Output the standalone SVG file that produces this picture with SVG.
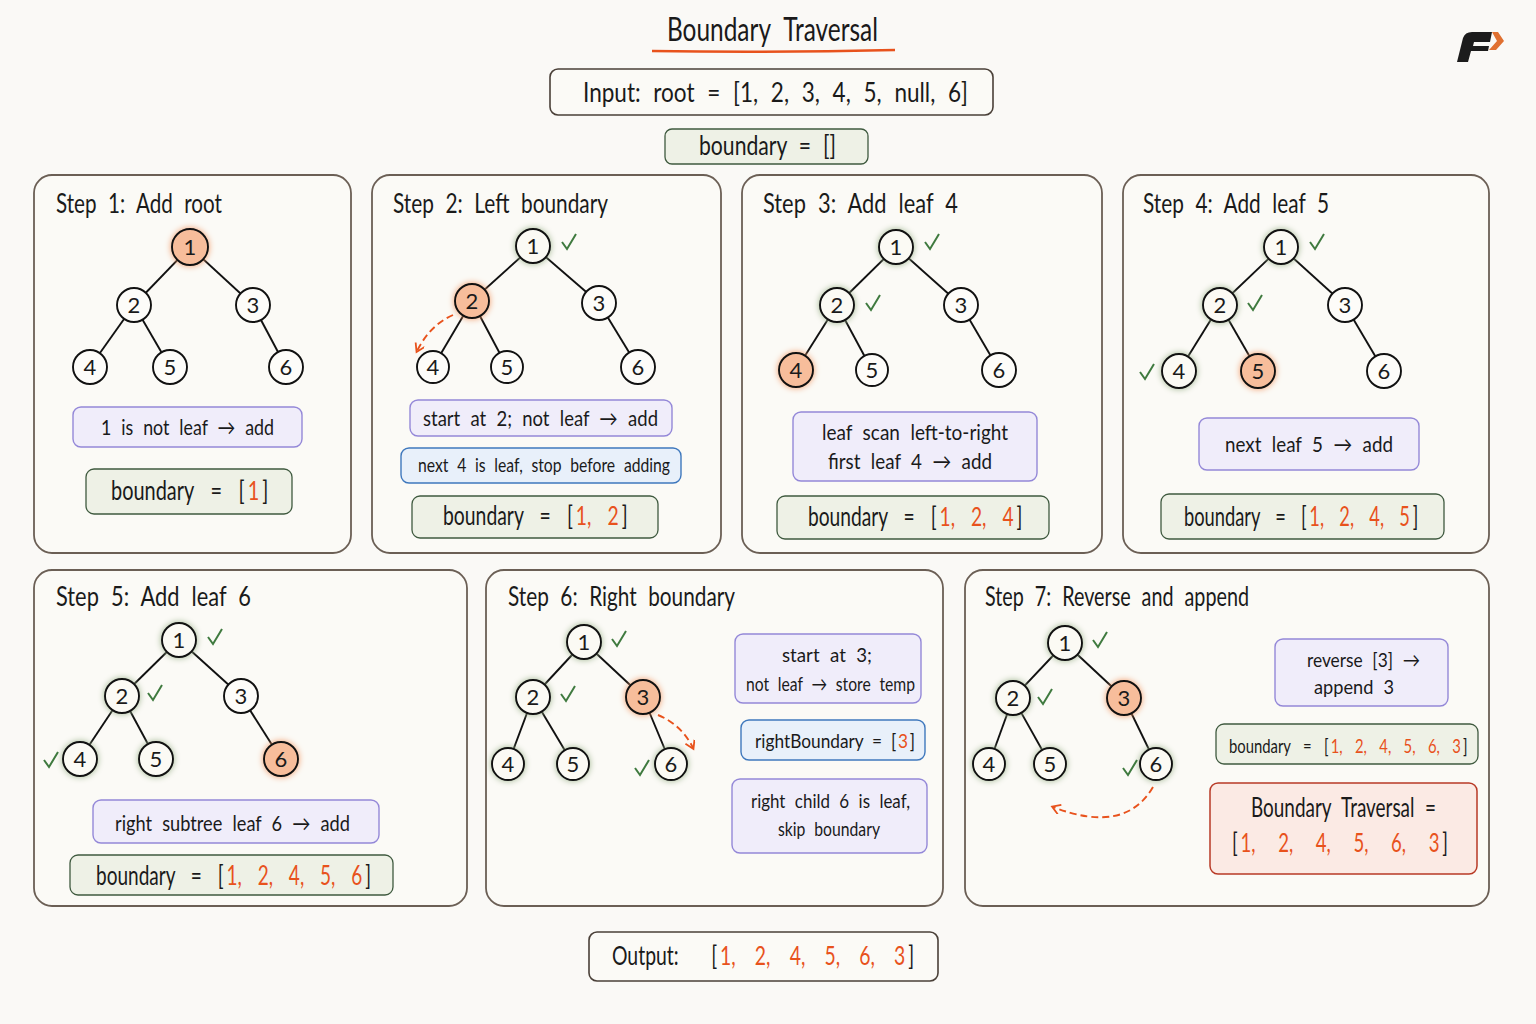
<svg xmlns="http://www.w3.org/2000/svg" xmlns:xlink="http://www.w3.org/1999/xlink" width="1536" height="1024" viewBox="0 0 1536 1024">
<style>
text{font-family:"Lato","Noto Sans",sans-serif;fill:#1a1a1a;word-spacing:.3em}
.o{fill:#e8521c}
.ti{font-size:32px}.h1{font-size:27px}.b{font-size:26px;word-spacing:15px}.m{font-size:21px}.s{font-size:20px}.t{font-size:20px;word-spacing:11.5px}
.p{fill:#fbfaf6;stroke:#6b5f55;stroke-width:1.8}
.pu{fill:#f0edfa;stroke:#9488d8;stroke-width:1.4}
.gr{fill:#eef1e6;stroke:#3f5a3f;stroke-width:1.3}
.bl{fill:#e8f0fa;stroke:#3f78bd;stroke-width:1.4}
.re{fill:#fbeae4;stroke:#b83a26;stroke-width:1.5}
.w{fill:#fbfaf6;stroke:#4a4038;stroke-width:1.6}
.n circle{fill:#fdfcf9;stroke:#111;stroke-width:1.9}
.n text{font-size:22px;text-anchor:middle}
.v circle{fill:#fbfaf4;filter:drop-shadow(0 0 3px #9fb58f)}
.h circle{fill:#f7bd9b;filter:drop-shadow(0 0 3px #f39a68)}
.e line{stroke:#111;stroke-width:1.9}
.ck{fill:none;stroke:#3f7a3f;stroke-width:2}
.ar{fill:none;stroke:#e8521c;stroke-width:1.9;stroke-dasharray:7 4}
</style>
<defs>
<path id="c" class="ck" d="M-7,1 L-2,8 L7,-7"/>
<marker id="a" markerUnits="userSpaceOnUse" markerWidth="12" markerHeight="12" refX="8" refY="5" orient="auto"><path d="M1,0 L9,5 L1,10" fill="none" stroke="#e8521c" stroke-width="1.8"/></marker>
</defs>
<rect width="1536" height="1024" fill="#faf9f6"/>
<g id="title"><text class="ti" x="667" y="41" textLength="211" lengthAdjust="spacingAndGlyphs">Boundary Traversal</text><path d="M652,51 Q770,53 895,50" fill="none" stroke="#e8521c" stroke-width="2.5"/></g>
<g id="logo"><path fill="#1c1c1c" d="M1457,62 L1463,38 Q1465,32 1472,32 L1492,32 L1490,42 L1474,42 L1473,46 L1489,46 L1488,51 L1471,51 L1468,62 Z"/><path fill="#e07030" d="M1492,32 L1498,32 L1504,41 L1496,50 L1489,50 L1497,41 Z"/></g>
<g id="input"><rect class="w" x="550" y="69" width="443" height="46" rx="8"/><text class="b" x="583" y="102" textLength="385" lengthAdjust="spacingAndGlyphs" style="word-spacing:8px">Input: root = [1, 2, 3, 4, 5, null, 6]</text></g>
<g id="start"><rect class="gr" x="665" y="129" width="203" height="35" rx="7"/><text class="b" x="699" y="155" textLength="137" lengthAdjust="spacingAndGlyphs" style="word-spacing:8px">boundary = []</text></g>

<g id="panels">
<rect class="p" x="34" y="175" width="317" height="378" rx="18"/>
<rect class="p" x="372" y="175" width="349" height="378" rx="18"/>
<rect class="p" x="742" y="175" width="360" height="378" rx="18"/>
<rect class="p" x="1123" y="175" width="366" height="378" rx="18"/>
<rect class="p" x="34" y="570" width="433" height="336" rx="18"/>
<rect class="p" x="486" y="570" width="457" height="336" rx="18"/>
<rect class="p" x="965" y="570" width="524" height="336" rx="18"/>
</g>

<g id="connectors">
<g class="e">
<line x1="190" y1="247" x2="134" y2="305"/><line x1="190" y1="247" x2="253" y2="305"/><line x1="134" y1="305" x2="90" y2="367"/><line x1="134" y1="305" x2="170" y2="367"/><line x1="253" y1="305" x2="286" y2="367"/>
<line x1="533" y1="246" x2="472" y2="301"/><line x1="533" y1="246" x2="599" y2="303"/><line x1="472" y1="301" x2="433" y2="367"/><line x1="472" y1="301" x2="507" y2="367"/><line x1="599" y1="303" x2="638" y2="367"/>
<line x1="896" y1="247" x2="837" y2="305"/><line x1="896" y1="247" x2="961" y2="305"/><line x1="837" y1="305" x2="796" y2="370"/><line x1="837" y1="305" x2="872" y2="370"/><line x1="961" y1="305" x2="999" y2="370"/>
<line x1="1281" y1="247" x2="1220" y2="305"/><line x1="1281" y1="247" x2="1345" y2="305"/><line x1="1220" y1="305" x2="1179" y2="371"/><line x1="1220" y1="305" x2="1258" y2="371"/><line x1="1345" y1="305" x2="1384" y2="371"/>
<line x1="179" y1="640" x2="122" y2="696"/><line x1="179" y1="640" x2="241" y2="696"/><line x1="122" y1="696" x2="80" y2="759"/><line x1="122" y1="696" x2="156" y2="759"/><line x1="241" y1="696" x2="281" y2="759"/>
<line x1="584" y1="642" x2="533" y2="697"/><line x1="584" y1="642" x2="643" y2="697"/><line x1="533" y1="697" x2="508" y2="764"/><line x1="533" y1="697" x2="573" y2="764"/><line x1="643" y1="697" x2="671" y2="764"/>
<line x1="1065" y1="643" x2="1013" y2="698"/><line x1="1065" y1="643" x2="1124" y2="698"/><line x1="1013" y1="698" x2="989" y2="764"/><line x1="1013" y1="698" x2="1050" y2="764"/><line x1="1124" y1="698" x2="1156" y2="764"/>
</g>
<path class="ar" d="M453,315 Q430,325 417,351" marker-end="url(#a)"/>
<path class="ar" d="M658,715 Q682,725 693,748" marker-end="url(#a)"/>
<path class="ar" d="M1153,787 Q1125,835 1053,807" marker-end="url(#a)"/>
</g>

<g id="step1">
<text class="h1" x="56" y="213" textLength="166" lengthAdjust="spacingAndGlyphs">Step 1: Add root</text>
<g id="s1n1" class="n h"><circle cx="190" cy="247" r="18"/><text x="190" y="255">1</text></g>
<g id="s1n2" class="n"><circle cx="134" cy="305" r="17"/><text x="134" y="313">2</text></g>
<g id="s1n3" class="n"><circle cx="253" cy="305" r="17"/><text x="253" y="313">3</text></g>
<g id="s1n4" class="n"><circle cx="90" cy="367" r="17"/><text x="90" y="375">4</text></g>
<g id="s1n5" class="n"><circle cx="170" cy="367" r="17"/><text x="170" y="375">5</text></g>
<g id="s1n6" class="n"><circle cx="286" cy="367" r="17"/><text x="286" y="375">6</text></g>
<rect class="pu" x="73" y="407" width="229" height="40" rx="8"/><text class="m" x="101" y="435" textLength="173" lengthAdjust="spacingAndGlyphs">1 is not leaf → add</text>
<rect class="gr" x="86" y="469" width="206" height="45" rx="8"/><text class="b" transform="translate(111 500) scale(.767 1)">boundary = [<tspan class="o" dx="4">1</tspan><tspan dx="4">]</tspan></text>
</g>

<g id="step2">
<text class="h1" x="393" y="213" textLength="215" lengthAdjust="spacingAndGlyphs">Step 2: Left boundary</text>
<g id="s2n1" class="n v"><circle cx="533" cy="246" r="17"/><text x="533" y="254">1</text><use href="#c" xlink:href="#c" x="569" y="241"/></g>
<g id="s2n2" class="n h"><circle cx="472" cy="301" r="17"/><text x="472" y="309">2</text></g>
<g id="s2n3" class="n"><circle cx="599" cy="303" r="17"/><text x="599" y="311">3</text></g>
<g id="s2n4" class="n"><circle cx="433" cy="367" r="16"/><text x="433" y="375">4</text></g>
<g id="s2n5" class="n"><circle cx="507" cy="367" r="16"/><text x="507" y="375">5</text></g>
<g id="s2n6" class="n"><circle cx="638" cy="367" r="17"/><text x="638" y="375">6</text></g>
<rect class="pu" x="410" y="400" width="262" height="36" rx="8"/><text class="m" x="423" y="426" textLength="235" lengthAdjust="spacingAndGlyphs">start at 2; not leaf → add</text>
<rect class="bl" x="401" y="448" width="280" height="35" rx="8"/><text class="s" x="418" y="472" textLength="252" lengthAdjust="spacingAndGlyphs">next 4 is leaf, stop before adding</text>
<rect class="gr" x="412" y="496" width="246" height="42" rx="8"/><text class="b" transform="translate(443 525) scale(.745 1)">boundary = [<tspan class="o" dx="4">1, 2</tspan><tspan dx="4">]</tspan></text>
</g>

<g id="step3">
<text class="h1" x="763" y="213" textLength="195" lengthAdjust="spacingAndGlyphs">Step 3: Add leaf 4</text>
<g id="s3n1" class="n v"><circle cx="896" cy="247" r="17"/><text x="896" y="255">1</text><use href="#c" xlink:href="#c" x="932" y="241"/></g>
<g id="s3n2" class="n v"><circle cx="837" cy="305" r="17"/><text x="837" y="313">2</text><use href="#c" xlink:href="#c" x="873" y="302"/></g>
<g id="s3n3" class="n"><circle cx="961" cy="305" r="17"/><text x="961" y="313">3</text></g>
<g id="s3n4" class="n h"><circle cx="796" cy="370" r="17"/><text x="796" y="378">4</text></g>
<g id="s3n5" class="n"><circle cx="872" cy="370" r="16"/><text x="872" y="378">5</text></g>
<g id="s3n6" class="n"><circle cx="999" cy="370" r="17"/><text x="999" y="378">6</text></g>
<rect class="pu" x="793" y="412" width="244" height="69" rx="8"/>
<text class="m" x="822" y="440" textLength="186" lengthAdjust="spacingAndGlyphs">leaf scan left-to-right</text>
<text class="m" x="828" y="469" textLength="164" lengthAdjust="spacingAndGlyphs">first leaf 4 → add</text>
<rect class="gr" x="777" y="496" width="272" height="43" rx="8"/><text class="b" transform="translate(808 526) scale(.738 1)">boundary = [<tspan class="o" dx="4">1, 2, 4</tspan><tspan dx="4">]</tspan></text>
</g>

<g id="step4">
<text class="h1" x="1143" y="213" textLength="186" lengthAdjust="spacingAndGlyphs">Step 4: Add leaf 5</text>
<g id="s4n1" class="n v"><circle cx="1281" cy="247" r="17"/><text x="1281" y="255">1</text><use href="#c" xlink:href="#c" x="1317" y="241"/></g>
<g id="s4n2" class="n v"><circle cx="1220" cy="305" r="17"/><text x="1220" y="313">2</text><use href="#c" xlink:href="#c" x="1255" y="302"/></g>
<g id="s4n3" class="n"><circle cx="1345" cy="305" r="17"/><text x="1345" y="313">3</text></g>
<g id="s4n4" class="n v"><circle cx="1179" cy="371" r="17"/><text x="1179" y="379">4</text><use href="#c" xlink:href="#c" x="1147" y="371"/></g>
<g id="s4n5" class="n h"><circle cx="1258" cy="371" r="17"/><text x="1258" y="379">5</text></g>
<g id="s4n6" class="n"><circle cx="1384" cy="371" r="17"/><text x="1384" y="379">6</text></g>
<rect class="pu" x="1199" y="418" width="220" height="52" rx="8"/><text class="m" x="1225" y="452" textLength="168" lengthAdjust="spacingAndGlyphs">next leaf 5 → add</text>
<rect class="gr" x="1161" y="494" width="283" height="45" rx="8"/><text class="b" transform="translate(1184 526) scale(.703 1)">boundary = [<tspan class="o" dx="4">1, 2, 4, 5</tspan><tspan dx="4">]</tspan></text>
</g>

<g id="step5">
<text class="h1" x="56" y="606" textLength="195" lengthAdjust="spacingAndGlyphs">Step 5: Add leaf 6</text>
<g id="s5n1" class="n v"><circle cx="179" cy="640" r="17"/><text x="179" y="648">1</text><use href="#c" xlink:href="#c" x="215" y="636"/></g>
<g id="s5n2" class="n v"><circle cx="122" cy="696" r="17"/><text x="122" y="704">2</text><use href="#c" xlink:href="#c" x="155" y="692"/></g>
<g id="s5n3" class="n"><circle cx="241" cy="696" r="17"/><text x="241" y="704">3</text></g>
<g id="s5n4" class="n v"><circle cx="80" cy="759" r="17"/><text x="80" y="767">4</text><use href="#c" xlink:href="#c" x="51" y="759"/></g>
<g id="s5n5" class="n v"><circle cx="156" cy="759" r="17"/><text x="156" y="767">5</text></g>
<g id="s5n6" class="n h"><circle cx="281" cy="759" r="17"/><text x="281" y="767">6</text></g>
<rect class="pu" x="93" y="800" width="286" height="43" rx="8"/><text class="m" x="115" y="831" textLength="235" lengthAdjust="spacingAndGlyphs">right subtree leaf 6 → add</text>
<rect class="gr" x="70" y="855" width="323" height="40" rx="8"/><text class="b" transform="translate(96 885) scale(.732 1)">boundary = [<tspan class="o" dx="4">1, 2, 4, 5, 6</tspan><tspan dx="4">]</tspan></text>
</g>

<g id="step6">
<text class="h1" x="508" y="606" textLength="227" lengthAdjust="spacingAndGlyphs">Step 6: Right boundary</text>
<g id="s6n1" class="n v"><circle cx="584" cy="642" r="17"/><text x="584" y="650">1</text><use href="#c" xlink:href="#c" x="619" y="638"/></g>
<g id="s6n2" class="n v"><circle cx="533" cy="697" r="17"/><text x="533" y="705">2</text><use href="#c" xlink:href="#c" x="568" y="693"/></g>
<g id="s6n3" class="n h"><circle cx="643" cy="697" r="17"/><text x="643" y="705">3</text></g>
<g id="s6n4" class="n v"><circle cx="508" cy="764" r="16"/><text x="508" y="772">4</text></g>
<g id="s6n5" class="n v"><circle cx="573" cy="764" r="16"/><text x="573" y="772">5</text></g>
<g id="s6n6" class="n v"><circle cx="671" cy="764" r="16"/><text x="671" y="772">6</text><use href="#c" xlink:href="#c" x="642" y="767"/></g>
<rect class="pu" x="735" y="634" width="186" height="69" rx="8"/>
<text class="s" x="782" y="662" textLength="90" lengthAdjust="spacingAndGlyphs">start at 3;</text>
<text class="s" x="746" y="691" textLength="169" lengthAdjust="spacingAndGlyphs">not leaf → store temp</text>
<rect class="bl" x="741" y="720" width="184" height="40" rx="8"/><text class="s" transform="translate(755 748) scale(.865 1)" style="word-spacing:5px">rightBoundary = [<tspan class="o" dx="2">3</tspan><tspan dx="2">]</tspan></text>
<rect class="pu" x="732" y="779" width="195" height="74" rx="8"/>
<text class="s" x="751" y="808" textLength="159" lengthAdjust="spacingAndGlyphs">right child 6 is leaf,</text>
<text class="s" x="778" y="836" textLength="102" lengthAdjust="spacingAndGlyphs">skip boundary</text>
</g>

<g id="step7">
<text class="h1" x="985" y="606" textLength="264" lengthAdjust="spacingAndGlyphs">Step 7: Reverse and append</text>
<g id="s7n1" class="n v"><circle cx="1065" cy="643" r="17"/><text x="1065" y="651">1</text><use href="#c" xlink:href="#c" x="1100" y="639"/></g>
<g id="s7n2" class="n v"><circle cx="1013" cy="698" r="17"/><text x="1013" y="706">2</text><use href="#c" xlink:href="#c" x="1045" y="696"/></g>
<g id="s7n3" class="n h"><circle cx="1124" cy="698" r="17"/><text x="1124" y="706">3</text></g>
<g id="s7n4" class="n v"><circle cx="989" cy="764" r="16"/><text x="989" y="772">4</text></g>
<g id="s7n5" class="n v"><circle cx="1050" cy="764" r="16"/><text x="1050" y="772">5</text></g>
<g id="s7n6" class="n v"><circle cx="1156" cy="764" r="16"/><text x="1156" y="772">6</text><use href="#c" xlink:href="#c" x="1130" y="767"/></g>
<rect class="pu" x="1275" y="639" width="173" height="67" rx="8"/>
<text class="s" x="1307" y="667" textLength="113" lengthAdjust="spacingAndGlyphs">reverse [3] →</text>
<text class="s" x="1314" y="694" textLength="80" lengthAdjust="spacingAndGlyphs">append 3</text>
<rect class="gr" x="1216" y="724" width="262" height="40" rx="8"/><text class="t" transform="translate(1229 753) scale(.742 1)">boundary = [<tspan class="o" dx="3">1, 2, 4, 5, 6, 3</tspan><tspan dx="3">]</tspan></text>
<rect class="re" x="1210" y="783" width="267" height="91" rx="8"/>
<text class="b" x="1251" y="817" textLength="185" lengthAdjust="spacingAndGlyphs" style="word-spacing:.3em">Boundary Traversal =</text>
<text class="b" transform="translate(1232 852) scale(.715 1)" style="word-spacing:25px">[<tspan class="o" dx="4">1, 2, 4, 5, 6, 3</tspan><tspan dx="4">]</tspan></text>
</g>

<g id="output"><rect class="w" x="589" y="932" width="349" height="49" rx="8"/><text class="b" transform="translate(612 965) scale(.746 1)" style="word-spacing:19px">Output:<tspan dx="18"> [</tspan><tspan class="o" dx="4">1, 2, 4, 5, 6, 3</tspan><tspan dx="4">]</tspan></text></g>
</svg>
